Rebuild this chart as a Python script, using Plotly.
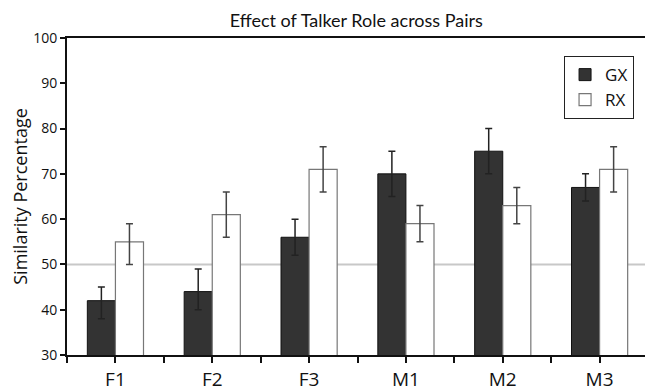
import plotly.graph_objects as go

categories = ["F1", "F2", "F3", "M1", "M2", "M3"]
gx_values = [42, 44, 56, 70, 75, 67]
gx_upper = [45, 49, 60, 75, 80, 70]
gx_lower = [38, 40, 52, 65, 70, 64]
rx_values = [55, 61, 71, 59, 63, 71]
rx_upper = [59, 66, 76, 63, 67, 76]
rx_lower = [50, 56, 66, 55, 59, 66]
y_ticks = [30, 40, 50, 60, 70, 80, 90, 100]
reference_level = 50

x = list(range(len(categories)))
FONT = "Open Sans, Lato, sans-serif"

def err(vals, up, lo, color):
    return dict(type="data", symmetric=False,
                array=[u - v for u, v in zip(up, vals)],
                arrayminus=[v - l for v, l in zip(vals, lo)],
                color=color, thickness=1.5, width=3.5)

fig = go.Figure()
fig.add_trace(go.Bar(name="GX", x=x, y=gx_values,
                     marker=dict(color="#333333", line=dict(color="#111111", width=1)),
                     error_y=err(gx_values, gx_upper, gx_lower, "#222222")))
fig.add_trace(go.Bar(name="RX", x=x, y=rx_values,
                     marker=dict(color="white", line=dict(color="#777777", width=1.2)),
                     error_y=err(rx_values, rx_upper, rx_lower, "#444444")))

fig.add_shape(type="line", xref="paper", x0=0, x1=1, yref="y",
              y0=reference_level, y1=reference_level,
              line=dict(color="#c8c8c8", width=2), layer="below")

fig.update_layout(
    width=645, height=384,
    margin=dict(l=59, r=5, t=30, b=37, autoexpand=False),
    plot_bgcolor="white", paper_bgcolor="white",
    barmode="group", bargap=0.42, bargroupgap=0,
    title=dict(text="Effect of Talker Role across Pairs", x=0.54, xanchor="center",
               y=0.968, yanchor="middle",
               font=dict(family="Lato, sans-serif", size=18, color="#111")),
    showlegend=True,
    legend=dict(x=0.976, y=0.943, xanchor="right", yanchor="top",
                bordercolor="#222", borderwidth=1, bgcolor="white",
                font=dict(family=FONT, size=17, color="#111"),
                itemwidth=30, tracegroupgap=0),
    font=dict(family=FONT, color="#111"),
)
fig.update_xaxes(range=[-0.5, 5.5], tickvals=x, ticktext=categories,
                 ticks="outside", ticklen=6, tickwidth=1.5, tickcolor="#111",
                 minor=dict(tickvals=[i + 0.5 for i in range(-1, len(categories))],
                            ticks="outside", ticklen=6, tickwidth=1.5, tickcolor="#111"),
                 showline=True, linecolor="#111", linewidth=2, mirror=True,
                 showgrid=False, zeroline=False, automargin=False,
                 tickfont=dict(family=FONT, size=19, color="#111"))
fig.update_yaxes(range=[30, 100], tickvals=y_ticks,
                 ticks="outside", ticklen=5, tickwidth=1.5, tickcolor="#111",
                 showline=True, linecolor="#111", linewidth=2, mirror=True,
                 showgrid=False, zeroline=False, automargin=False,
                 title=dict(text="Similarity Percentage", standoff=4,
                            font=dict(family=FONT, size=18, color="#111")),
                 tickfont=dict(family=FONT, size=14, color="#111"))

fig.write_html("out.html")
